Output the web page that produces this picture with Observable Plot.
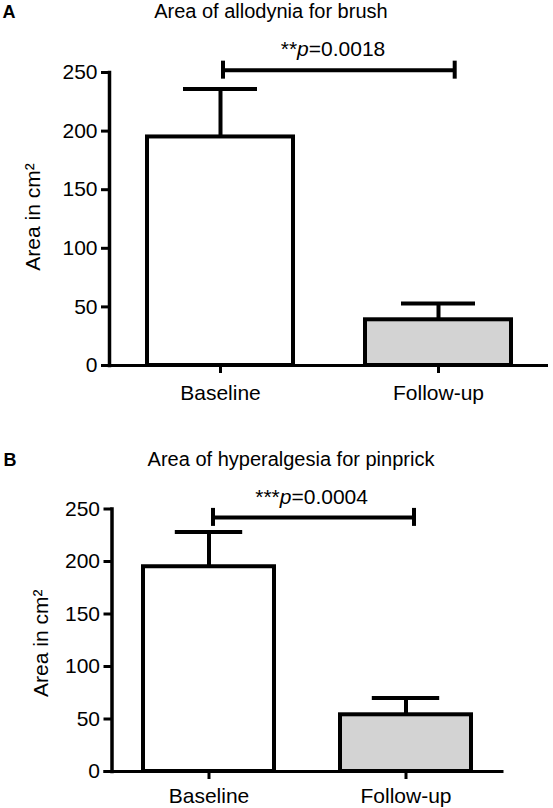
<!DOCTYPE html>
<html>
<head>
<meta charset="utf-8">
<script src="https://cdn.jsdelivr.net/npm/d3@7"></script>
<script src="https://cdn.jsdelivr.net/npm/@observablehq/plot@0.6"></script>
<style>
  body { margin: 0; background: #fff; }
  #chart svg { display: block; }
</style>
</head>
<body>
<div id="chart"></div>
<script>
const categories = ["Baseline", "Follow-up"];
const yTicks = [0, 50, 100, 150, 200, 250];
const yLabel = "Area in cm²";

// A: allodynia for brush (bar = mean, whisker = upper end of error bar)
const brushMean = [195, 39];
const brushUpper = [236, 53];
const brushBracket = 252;
const brushP = "**p=0.0018";

// B: hyperalgesia for pinprick
const pinMean = [195, 54];
const pinUpper = [228, 70];
const pinBracket = 242;
const pinP = "***p=0.0004";

function panel(o) {
  const rows = categories.map((c, i) => ({cat: c, mean: o.mean[i], upper: o.upper[i]}));
  const br = [{y: o.bracket, a: categories[0], b: categories[1]}];
  const chart = Plot.plot({
    width: 553,
    height: 404,
    marginLeft: o.left,
    marginRight: o.right,
    marginTop: o.top,
    marginBottom: o.bottom,
    style: {
      fontFamily: "'Liberation Sans', Arial, Helvetica, sans-serif",
      fontSize: "21px",
      color: "black",
      background: "white",
      overflow: "visible"
    },
    x: {domain: categories, paddingInner: o.pi, paddingOuter: o.po},
    y: {domain: [0, 250]},
    color: {domain: categories, range: ["#ffffff", "#d3d3d3"]},
    marks: [
      Plot.barY(rows, {x: "cat", y: "mean", fill: "cat", stroke: "black", strokeWidth: 4}),
      Plot.ruleX(rows, {x: "cat", y1: "mean", y2: "upper", strokeWidth: 4}),
      Plot.ruleY(rows, {x1: "cat", x2: "cat", y: "upper", insetLeft: o.cap, insetRight: o.cap, strokeWidth: 4}),
      Plot.ruleY([0], {insetLeft: -8, strokeWidth: 3}),
      Plot.frame({anchor: "left", strokeWidth: 3.5}),
      Plot.axisY({ticks: yTicks, tickSize: 8, tickPadding: 4, strokeWidth: 3, label: null}),
      Plot.axisX({tickSize: 8, tickPadding: o.xpad, strokeWidth: 3, label: null}),
      // significance bracket
      Plot.ruleY(br, {y: "y", x1: "a", x2: "b", insetLeft: o.brIn[0], insetRight: o.brIn[1], strokeWidth: 4}),
      Plot.ruleX(br, {x: "a", y1: "y", y2: "y", insetTop: -9, insetBottom: -9, dx: o.brDx[0], strokeWidth: 4}),
      Plot.ruleX(br, {x: "b", y1: "y", y2: "y", insetTop: -9, insetBottom: -9, dx: o.brDx[1], strokeWidth: 4}),
      Plot.text(br, {x: "a", y: "y", text: () => o.p, textAnchor: "middle", dx: o.pDx, dy: o.pDy, lineAnchor: "bottom"}),
      // titles
      Plot.text([o.title], {frameAnchor: "top-left", textAnchor: "middle", dx: o.tDx, dy: o.tDy, lineAnchor: "bottom", fontSize: 20}),
      Plot.text([o.letter], {frameAnchor: "top-left", textAnchor: "start", dx: o.lDx, dy: o.tDy, lineAnchor: "bottom", fontWeight: "bold", fontSize: 18}),
      Plot.text([yLabel], {frameAnchor: "left", textAnchor: "middle", rotate: -90, lineAnchor: "bottom", dx: o.yDx, dy: o.yDy})
    ]
  });
  // italic p in the p-value label
  d3.select(chart).selectAll("text")
    .filter(function () { return /^\*+p=/.test(this.textContent); })
    .each(function () {
      const m = this.textContent.match(/^(\*+)p(=.*)$/);
      const t = d3.select(this).text(null);
      t.append("tspan").text(m[1]);
      t.append("tspan").attr("font-style", "italic").text("p");
      t.append("tspan").text(m[2]);
    });
  return chart;
}

const chartA = panel({
  letter: "A", title: "Area of allodynia for brush",
  mean: brushMean, upper: brushUpper, bracket: brushBracket, p: brushP,
  left: 109, right: 5, top: 72, bottom: 39, pi: 0.332, po: 0.17,
  cap: 36, xpad: 12, brIn: [75.5, 56.8], brDx: [2.5, 16.2],
  pDx: 112.5, pDy: -14.3, tDx: 161.4, tDy: -55, lDx: -107, yDx: -69.7, yDy: -2
});

const chartB = panel({
  letter: "B", title: "Area of hyperalgesia for pinprick",
  mean: pinMean, upper: pinUpper, bracket: pinBracket, p: pinP,
  left: 111.5, right: 49.5, top: 104.5, bottom: 37, pi: 0.333, po: 0.16,
  cap: 31.8, xpad: 9, brIn: [70, 58], brDx: [4, 8],
  pDx: 102.6, pDy: -13.5, tDx: 179, tDy: -43.5, lDx: -108.5, yDx: -64.5, yDy: 3
});

d3.select("#chart").append(() => chartA);
d3.select("#chart").append(() => chartB);
</script>
</body>
</html>
